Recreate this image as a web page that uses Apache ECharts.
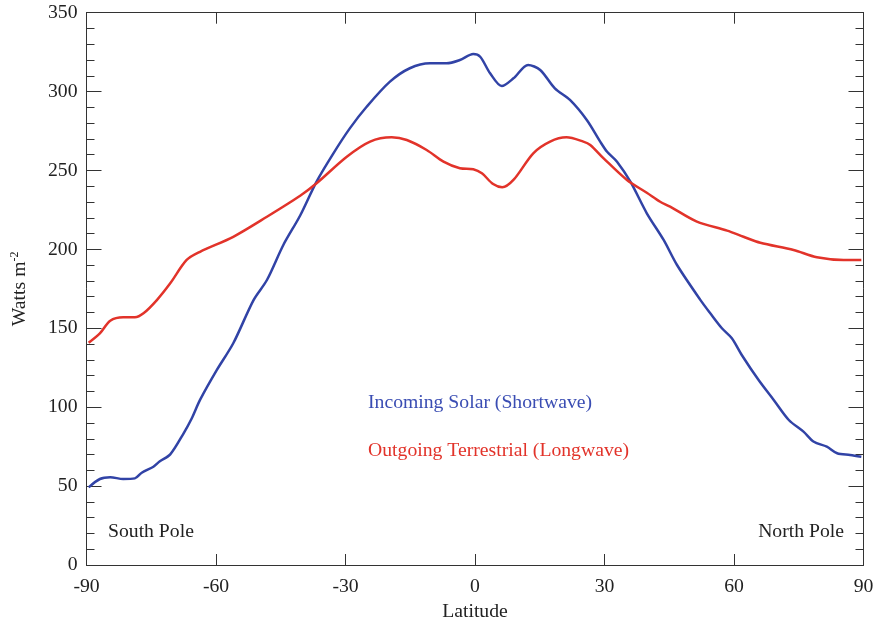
<!DOCTYPE html>
<html>
<head>
<meta charset="utf-8">
<script src="https://cdn.jsdelivr.net/npm/echarts@6/dist/echarts.min.js"></script>
<style>html,body{margin:0;padding:0;background:#fff;overflow:hidden}#c{width:877px;height:617px}</style>
</head>
<body>
<div id="c"></div>
<script>
var solarLat = [-89.5,-86.9,-84.5,-81.5,-78.8,-77.2,-74.5,-73.0,-70.6,-67.6,-65.6,-63.7,-59.8,-56.0,-51.3,-48.2,-44.4,-40.5,-36.7,-32.8,-29.0,-25.1,-19.7,-15.1,-10.4,-6.6,-3.5,-0.4,1.2,3.5,6.2,8.9,12.3,15.1,18.5,22.0,25.9,29.0,30.6,32.9,36.0,39.8,43.7,46.8,52.2,54.5,57.2,59.5,61.8,65.7,69.2,72.7,76.1,78.5,81.5,83.9,86.9,89.5];
var solarVal = [49.2,54.5,55.6,54.5,54.9,58.5,62.3,65.7,70.1,83,93,104.6,123.6,140.5,167.9,180.6,202.8,221.5,243,260.9,276.7,290.4,306.3,314.8,317.9,317.9,320,323.8,322.1,311.6,303.5,308.4,316.9,313.7,302,294.7,282,268.3,261.9,255.6,242.9,222.9,206,190.1,168,159.5,150,143.7,133.1,117.2,104.6,91.9,84.5,78.1,75,70.8,69.7,68.6];
var terrLat = [-89.5,-86.9,-84.5,-81.5,-78.8,-76.8,-73.7,-70.6,-66.8,-63.7,-56.0,-48.2,-40.5,-36.7,-29.7,-24.3,-19.3,-15.8,-11.2,-7.3,-3.5,-0.4,1.6,4.2,6.3,8.9,13.5,17.4,21.2,25.1,26.7,29.8,35.2,39.8,42.9,45.2,51.4,58.4,62.2,66.1,73.8,79.2,85.4,89.5];
var terrVal = [140.9,146.8,154.8,157,157,159.5,167.9,178.5,193.3,198.5,208,220.7,234,241.9,258.7,268.3,271,269.3,263,255.6,251.4,250.8,248.2,241.4,239.4,244,260.9,268.3,271,268.3,266.2,257.7,244,235.9,230.2,227.1,217.6,211.9,208,204.2,199.6,195,193.3,193.3];
var xTicks = [-90,-60,-30,0,30,60,90];
var yTicks = [0,50,100,150,200,250,300,350];

function pairs(xs, ys){ return xs.map(function(x,i){ return [x, ys[i]]; }); }

var font = 'Liberation Serif';
var fs = 19.7;
var axisCol = '#333';
var chart = echarts.init(document.getElementById('c'), null, {renderer:'canvas', width:877, height:617});
var base = {min:xTicks[0], max:xTicks[xTicks.length-1], interval:30};
chart.setOption({
  animation:false,
  backgroundColor:'#fff',
  grid:{left:86.5, right:13.5, top:12.7, bottom:52, containLabel:false, outerBoundsMode:'none'},
  xAxis:[
    Object.assign({type:'value', position:'bottom',
      name:'Latitude', nameLocation:'middle', nameGap:30,
      nameTextStyle:{fontFamily:font, fontSize:fs, color:'#222'},
      axisLine:{show:true, onZero:false, lineStyle:{color:axisCol, width:1}},
      axisTick:{show:true, inside:true, length:11, lineStyle:{color:axisCol}},
      axisLabel:{fontFamily:font, fontSize:fs, color:'#222', margin:12},
      splitLine:{show:false}}, base),
    Object.assign({type:'value', position:'top',
      axisLine:{show:true, onZero:false, lineStyle:{color:axisCol, width:1}},
      axisTick:{show:true, inside:true, length:11, lineStyle:{color:axisCol}},
      axisLabel:{show:false}, splitLine:{show:false}}, base)
  ],
  yAxis:[
    {type:'value', min:yTicks[0], max:yTicks[yTicks.length-1], interval:50, position:'left',
      name:'{a|Watts m}{b|-2}', nameLocation:'middle', nameGap:56, nameRotate:90,
      nameTextStyle:{fontFamily:font, fontSize:fs, color:'#222',
        rich:{a:{fontFamily:font, fontSize:fs, color:'#222'},
              b:{fontFamily:font, fontSize:12, color:'#222', verticalAlign:'top', padding:[0,0,10,0]}}},
      axisLine:{show:true, onZero:false, lineStyle:{color:axisCol, width:1}},
      axisTick:{show:true, inside:true, length:15, lineStyle:{color:axisCol}},
      minorTick:{show:true, splitNumber:5, length:8, lineStyle:{color:axisCol}},
      axisLabel:{fontFamily:font, fontSize:fs, color:'#222', margin:9},
      splitLine:{show:false}, minorSplitLine:{show:false}},
    {type:'value', min:yTicks[0], max:yTicks[yTicks.length-1], interval:50, position:'right',
      axisLine:{show:true, onZero:false, lineStyle:{color:axisCol, width:1}},
      axisTick:{show:true, inside:true, length:15, lineStyle:{color:axisCol}},
      minorTick:{show:true, splitNumber:5, length:8, lineStyle:{color:axisCol}},
      axisLabel:{show:false}, splitLine:{show:false}, minorSplitLine:{show:false}}
  ],
  series:[
    {name:'Incoming Solar (Shortwave)', type:'line', xAxisIndex:0, yAxisIndex:0,
      data:pairs(solarLat, solarVal), smooth:0.3, showSymbol:false,
      lineStyle:{color:'#3143a6', width:2.5}, itemStyle:{color:'#3143a6'}},
    {name:'Outgoing Terrestrial (Longwave)', type:'line', xAxisIndex:0, yAxisIndex:0,
      data:pairs(terrLat, terrVal), smooth:0.3, showSymbol:false,
      lineStyle:{color:'#e2332a', width:2.5}, itemStyle:{color:'#e2332a'}}
  ],
  graphic:[
    {type:'text', left:368, top:393, style:{text:'Incoming Solar (Shortwave)', fontFamily:font, fontSize:fs, fill:'#3a4db3'}},
    {type:'text', left:368, top:441, style:{text:'Outgoing Terrestrial (Longwave)', fontFamily:font, fontSize:fs, fill:'#e2332a'}},
    {type:'text', left:108, top:522, style:{text:'South Pole', fontFamily:font, fontSize:fs, fill:'#222'}},
    {type:'text', right:33, top:522, style:{text:'North Pole', fontFamily:font, fontSize:fs, fill:'#222'}}
  ]
});
</script>
</body>
</html>
